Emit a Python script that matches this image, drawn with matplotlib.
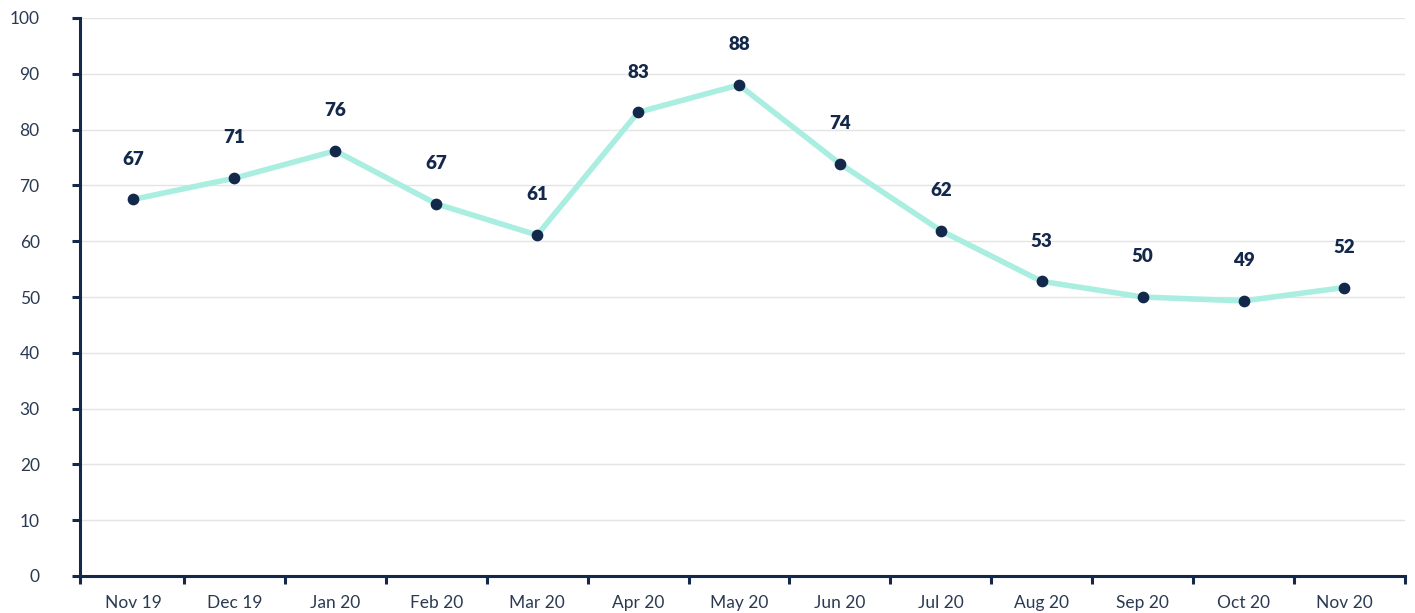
import matplotlib.pyplot as plt

months = ["Nov 19", "Dec 19", "Jan 20", "Feb 20", "Mar 20", "Apr 20", "May 20",
          "Jun 20", "Jul 20", "Aug 20", "Sep 20", "Oct 20", "Nov 20"]
values = [67.5, 71.3, 76.2, 66.7, 61.1, 83.1, 88.0, 73.9, 61.9, 52.8, 50.0, 49.3, 51.7]
labels = ["67", "71", "76", "67", "61", "83", "88", "74", "62", "53", "50", "49", "52"]

navy = "#13284a"
mint = "#a9eee1"

plt.rcParams['font.family'] = ['Lato', 'DejaVu Sans']

fig = plt.figure(figsize=(14.15, 6.13), dpi=100)
ax = fig.add_axes([80/1415, 1 - 576/613, 1325/1415, 558/613])

x = list(range(len(months)))
ax.plot(x, values, color=mint, linewidth=4, zorder=2)
ax.scatter(x, values, s=55, color=navy, zorder=3)

for xi, v, lab in zip(x, values, labels):
    ax.annotate(lab, (xi, v), xytext=(0, 29), textcoords="offset points",
                ha="center", va="center", fontsize=13.5, fontweight="heavy", color=navy)

xmin, xmax = -0.53, len(months) - 0.4
ax.set_xlim(xmin, xmax)
ax.set_ylim(0, 100)
ax.set_yticks(range(0, 101, 10))
ax.set_xticks(x)
ax.set_xticklabels(months)
ax.set_xticks([xmin] + [i + 0.5 for i in range(len(months) - 1)] + [xmax], minor=True)

ax.grid(axis="y", color="#e4e4e4", linewidth=1, zorder=0)
ax.set_axisbelow(True)

for s in ["top", "right"]:
    ax.spines[s].set_visible(False)
for s in ["left", "bottom"]:
    ax.spines[s].set_color(navy)
    ax.spines[s].set_linewidth(2.2)

ax.tick_params(axis="x", which="major", length=0, pad=14, labelsize=12.5, labelcolor="#2b3a52")
ax.tick_params(axis="x", which="minor", length=6, width=2.2, color=navy)
ax.tick_params(axis="y", length=6, width=2.2, color=navy, pad=23, labelsize=12.5, labelcolor="#2b3a52")

fig.savefig("out.png", dpi=100)
